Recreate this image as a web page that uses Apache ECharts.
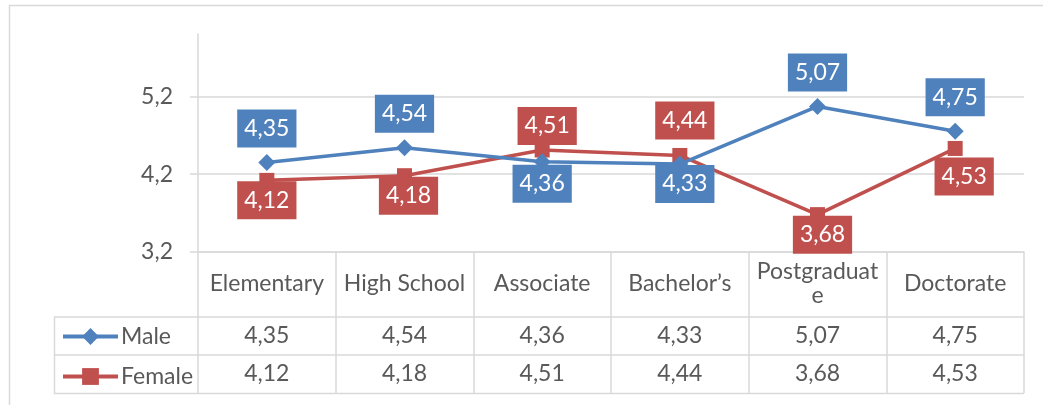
<!DOCTYPE html>
<html>
<head>
<meta charset="utf-8">
<script src="https://cdn.jsdelivr.net/npm/echarts@6/dist/echarts.min.js"></script>
<style>
html,body{margin:0;padding:0;background:#fff;}
#chart{width:1043px;height:405px;}
</style>
</head>
<body>
<div id="chart"></div>
<script>
// ---- data ----
const categories = ['Elementary', 'High School', 'Associate', 'Bachelor\u2019s', 'Postgraduate', 'Doctorate'];
const seriesNames = ['Male', 'Female'];
const maleValues = [4.35, 4.54, 4.36, 4.33, 5.07, 4.75];
const femaleValues = [4.12, 4.18, 4.51, 4.44, 3.68, 4.53];
const yTickValues = [3.2, 4.2, 5.2];

// ---- layout / style (not data) ----
const maleLabelOffsets = [[0, -34], [0, -34], [0, 22], [5, 20], [0, -34], [0, -34]];
const femaleLabelOffsets = [[0, 20], [4, 20], [5, -24], [5, -35], [5, 20], [9, 28]];

const FONT = 'Lato';
const TXT = '#595959';
const GRID = '#d9d9d9';
const BLUE = '#4f81bd';
const RED = '#c0504d';
const fmt = v => v.toFixed(2).replace('.', ',');

const chart = echarts.init(document.getElementById('chart'), null, {renderer: 'canvas'});

function dataLabel(color) {
  return {
    show: true,
    position: 'inside',
    color: '#fff',
    fontFamily: FONT,
    fontSize: 23,
    lineHeight: 22,
    backgroundColor: color,
    padding: [8, 7, 8, 7],
    formatter: p => fmt(p.value)
  };
}

const option = {
  animation: false,
  backgroundColor: '#fff',
  textStyle: {fontFamily: FONT},
  grid: {left: 198, right: 19, top: 34, bottom: 153},
  legend: {
    data: seriesNames.map(n => ({name: n, lineStyle: {width: 4}})),
    orient: 'vertical',
    left: 61,
    top: 325,
    padding: 0,
    itemWidth: 55,
    itemHeight: 21,
    itemGap: 17,
    lineStyle: {width: 4},
    textStyle: {fontFamily: FONT, fontSize: 23, color: TXT, padding: [0, 0, 0, -2]}
  },
  yAxis: {
    type: 'value',
    min: 3.2,
    max: 6.0,
    interval: 1,
    axisLine: {show: true, lineStyle: {color: GRID, width: 1.5}},
    axisTick: {show: true, length: 8, customValues: yTickValues, lineStyle: {color: GRID, width: 1.5}},
    splitLine: {show: true, lineStyle: {color: GRID, width: 1.5}},
    axisLabel: {
      customValues: yTickValues,
      margin: 25,
      color: TXT,
      fontFamily: FONT,
      fontSize: 23,
      formatter: v => v.toFixed(1).replace('.', ',')
    }
  },
  xAxis: [
    {
      type: 'category',
      data: categories,
      boundaryGap: true,
      position: 'bottom',
      axisLine: {show: true, lineStyle: {color: GRID, width: 1.5}},
      axisTick: {show: true, interval: 0, length: 65, lineStyle: {color: GRID, width: 1.5}},
      axisLabel: {
        interval: 0,
        margin: 32,
        verticalAlign: 'middle',
        color: TXT,
        fontFamily: FONT,
        fontSize: 23,
        lineHeight: 24,
        formatter: v => v === 'Postgraduate' ? 'Postgraduat\ne' : v
      }
    },
    {
      type: 'category',
      data: categories,
      boundaryGap: true,
      position: 'bottom',
      offset: 65,
      axisLine: {show: true, lineStyle: {color: GRID, width: 1.5}},
      axisTick: {show: true, interval: 0, length: 38, lineStyle: {color: GRID, width: 1.5}},
      axisLabel: {
        interval: 0, margin: 19, verticalAlign: 'middle', color: TXT, fontFamily: FONT, fontSize: 23,
        formatter: (v, i) => fmt(maleValues[i])
      }
    },
    {
      type: 'category',
      data: categories,
      boundaryGap: true,
      position: 'bottom',
      offset: 103,
      axisLine: {show: true, lineStyle: {color: GRID, width: 1.5}},
      axisTick: {show: true, interval: 0, length: 38, lineStyle: {color: GRID, width: 1.5}},
      axisLabel: {
        interval: 0, margin: 19, verticalAlign: 'middle', color: TXT, fontFamily: FONT, fontSize: 23,
        formatter: (v, i) => fmt(femaleValues[i])
      }
    }
  ],
  series: [
    {
      name: seriesNames[0],
      type: 'line',
      data: maleValues,
      symbol: 'diamond',
      symbolSize: 17,
      color: BLUE,
      lineStyle: {color: BLUE, width: 3.5},
      itemStyle: {color: BLUE},
      label: dataLabel(BLUE),
      labelLayout: p => ({dx: maleLabelOffsets[p.dataIndex][0], dy: maleLabelOffsets[p.dataIndex][1]}),
      z: 3
    },
    {
      name: seriesNames[1],
      type: 'line',
      data: femaleValues,
      symbol: 'rect',
      symbolSize: 15,
      color: RED,
      lineStyle: {color: RED, width: 3.5},
      itemStyle: {color: RED},
      label: dataLabel(RED),
      labelLayout: p => ({dx: femaleLabelOffsets[p.dataIndex][0], dy: femaleLabelOffsets[p.dataIndex][1]}),
      z: 2
    }
  ],
  graphic: [
    // outer chart border (top and left edges)
    {type: 'polyline', shape: {points: [[9.5, 405], [9.5, 5.5], [1043, 5.5]]}, style: {stroke: GRID, lineWidth: 1.5, fill: null}, silent: true},
    // data table legend column borders
    {type: 'polyline', shape: {points: [[198, 317], [54.5, 317], [54.5, 393.5], [1024, 393.5]]}, style: {stroke: GRID, lineWidth: 1.5, fill: null}, silent: true},
    {type: 'line', shape: {x1: 54.5, y1: 355, x2: 198, y2: 355}, style: {stroke: GRID, lineWidth: 1.5}, silent: true}
  ]
};
chart.setOption(option);
</script>
</body>
</html>
